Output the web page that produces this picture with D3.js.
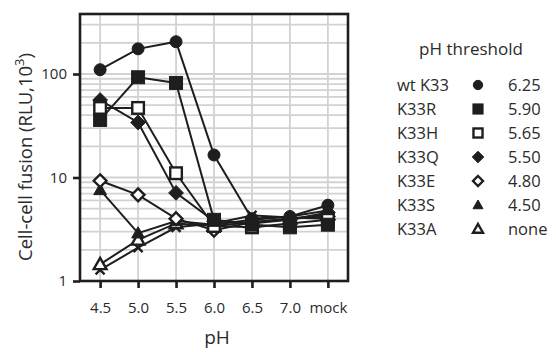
<!DOCTYPE html>
<html>
<head>
<meta charset="utf-8">
<script src="https://cdn.jsdelivr.net/npm/d3@7"></script>
<style>
  body { margin: 0; background: #fff; }
  text { font-family: 'Open Sans', sans-serif; fill: #2b2b2b; }
</style>
</head>
<body>
<svg id="chart" width="556" height="352"></svg>
<script>
// categories (x axis)
var phLabels = ['4.5', '5.0', '5.5', '6.0', '6.5', '7.0', 'mock'];

// series values, RLU x 10^3
var wtK33 = [110, 175, 205, 16.5, 4.0, 4.2, 5.4];
var k33R  = [36, 93, 82, 3.9, 3.5, 3.3, 3.5];
var k33H  = [47, 47, 11, 3.4, 3.3, 3.6, 3.9];
var k33Q  = [56, 34, 7.1, 3.8, 3.6, 3.9, 4.6];
var k33E  = [9.3, 6.8, 4.0, 3.1, 3.7, 4.0, 4.2];
var k33S  = [7.6, 2.9, 3.8, 3.5, 3.9, 4.2, 4.8];
var k33A  = [1.45, 2.5, 3.6, 3.4, 3.7, 4.0, 4.4];
var unlabeled = [1.28, 2.1, 3.3, 3.6, 4.3, 4.1, 4.0];

// legend
var legendNames = ['wt K33', 'K33R', 'K33H', 'K33Q', 'K33E', 'K33S', 'K33A'];
var thresholds  = ['6.25', '5.90', '5.65', '5.50', '4.80', '4.50', 'none'];

var yTicks = [1, 10, 100];

var series = [
    {values: unlabeled, shape: 'cross', fill: false},
    {values: k33A, shape: 'triangle', fill: false},
    {values: k33S, shape: 'triangle', fill: true},
    {values: k33E, shape: 'diamond', fill: false},
    {values: k33Q, shape: 'diamond', fill: true},
    {values: k33H, shape: 'square', fill: false},
    {values: k33R, shape: 'square', fill: true},
    {values: wtK33, shape: 'circle', fill: true}
];
var legendShapes = [
    {shape: 'circle', fill: true}, {shape: 'square', fill: true},
    {shape: 'square', fill: false}, {shape: 'diamond', fill: true},
    {shape: 'diamond', fill: false}, {shape: 'triangle', fill: true},
    {shape: 'triangle', fill: false}
];

var DARK = '#1e1e1e';
var GRID = '#d2d2d2';
var LEFT = 80, RIGHT = 348, TOP = 14, BOTTOM = 281;

var svg = d3.select('#chart');

var x = d3.scalePoint().domain(phLabels).range([LEFT, RIGHT]).padding(0.53);
var y = d3.scaleLog().domain([1, 380]).range([BOTTOM, TOP]);

// grid
var gridVals = [];
[1, 10, 100].forEach(function(dec) {
    for (var k = 1; k <= 9; k++) {
        if (dec * k > 1 && dec * k < 380) gridVals.push(dec * k);
    }
});
svg.append('g').selectAll('line').data(gridVals).enter().append('line')
    .attr('x1', LEFT).attr('x2', RIGHT)
    .attr('y1', function(d) { return y(d); })
    .attr('y2', function(d) { return y(d); })
    .style('stroke', GRID).style('stroke-width', 1.8);
svg.append('g').selectAll('line').data(phLabels).enter().append('line')
    .attr('x1', function(d) { return x(d); })
    .attr('x2', function(d) { return x(d); })
    .attr('y1', TOP).attr('y2', BOTTOM)
    .style('stroke', GRID).style('stroke-width', 1.8);

// frame
svg.append('rect')
    .attr('x', LEFT).attr('y', TOP)
    .attr('width', RIGHT - LEFT).attr('height', BOTTOM - TOP)
    .style('fill', 'none').style('stroke', DARK).style('stroke-width', 2.6);

// axes
var xAxis = svg.append('g')
    .attr('transform', 'translate(0,' + BOTTOM + ')')
    .call(d3.axisBottom(x).tickSize(7).tickPadding(14));
var yAxis = svg.append('g')
    .attr('transform', 'translate(' + LEFT + ',0)')
    .call(d3.axisLeft(y).tickValues(yTicks).tickFormat(d3.format('d')).tickSize(7).tickPadding(6));
[xAxis, yAxis].forEach(function(g) {
    g.select('.domain').remove();
    g.selectAll('line').style('stroke', DARK).style('stroke-width', 2.6);
    g.selectAll('text').style('font-family', "'Open Sans', sans-serif")
        .style('font-size', '15px').style('fill', '#2b2b2b');
});

// symbol drawing
var drawSymbol = function(g, shape, fill, cx, cy, scale) {
    var s = scale || 1;
    var el;
    if (shape === 'circle') {
        el = g.append('circle').attr('cx', cx).attr('cy', cy).attr('r', 6 * s);
    } else if (shape === 'square') {
        var h = (fill ? 6.5 : 5.8) * s;
        el = g.append('rect').attr('x', cx - h).attr('y', cy - h)
            .attr('width', 2 * h).attr('height', 2 * h);
    } else if (shape === 'diamond') {
        var d = (fill ? 7.4 : 6.4) * s;
        el = g.append('path').attr('d', 'M' + cx + ',' + (cy - d) + 'L' + (cx + d) + ',' + cy +
            'L' + cx + ',' + (cy + d) + 'L' + (cx - d) + ',' + cy + 'Z');
    } else if (shape === 'triangle') {
        var t = 6.4 * s;
        el = g.append('path').attr('d', 'M' + cx + ',' + (cy - t) + 'L' + (cx + t) + ',' + (cy + t * 0.75) +
            'L' + (cx - t) + ',' + (cy + t * 0.75) + 'Z');
    } else {
        var c = 4.5 * s;
        el = g.append('path').attr('d', 'M' + (cx - c) + ',' + (cy - c) + 'L' + (cx + c) + ',' + (cy + c) +
            'M' + (cx - c) + ',' + (cy + c) + 'L' + (cx + c) + ',' + (cy - c));
    }
    el.style('fill', fill ? DARK : '#fff').style('stroke', DARK)
      .style('stroke-width', fill ? 1 : 2.4).style('stroke-linejoin', 'miter');
    return el;
};

var line = d3.line()
    .x(function(d, i) { return x(phLabels[i]); })
    .y(function(d) { return y(d); });

var marks = svg.append('g');
series.forEach(function(s) {
    marks.append('path').datum(s.values)
        .attr('d', line)
        .style('fill', 'none').style('stroke', DARK).style('stroke-width', 2);
});
series.forEach(function(s) {
    s.values.forEach(function(v, i) {
        drawSymbol(marks, s.shape, s.fill, x(phLabels[i]), y(v));
    });
});

// axis titles
svg.append('text')
    .attr('x', 217).attr('y', 344)
    .attr('text-anchor', 'middle')
    .style('font-size', '19px')
    .text('pH');

var yt = svg.append('text')
    .attr('transform', 'translate(32,157) rotate(-90)')
    .attr('text-anchor', 'middle')
    .style('font-size', '18.5px');
yt.append('tspan').text('Cell-cell fusion (RLU,10');
yt.append('tspan').attr('dy', -8).style('font-size', '13px').text('3');
yt.append('tspan').attr('dy', 8).text(')');

// legend
var legend = svg.append('g');
legend.append('text')
    .attr('x', 471).attr('y', 55)
    .attr('text-anchor', 'middle')
    .style('font-size', '17px')
    .text('pH threshold');
legendNames.forEach(function(name, i) {
    var ly = 85 + i * 24;
    legend.append('text').attr('x', 397).attr('y', ly + 6)
        .style('font-size', '16.5px').text(name);
    drawSymbol(legend, legendShapes[i].shape, legendShapes[i].fill, 478, ly, 0.78);
    legend.append('text').attr('x', 508).attr('y', ly + 6)
        .style('font-size', '16.5px').text(thresholds[i]);
});
</script>
</body>
</html>
